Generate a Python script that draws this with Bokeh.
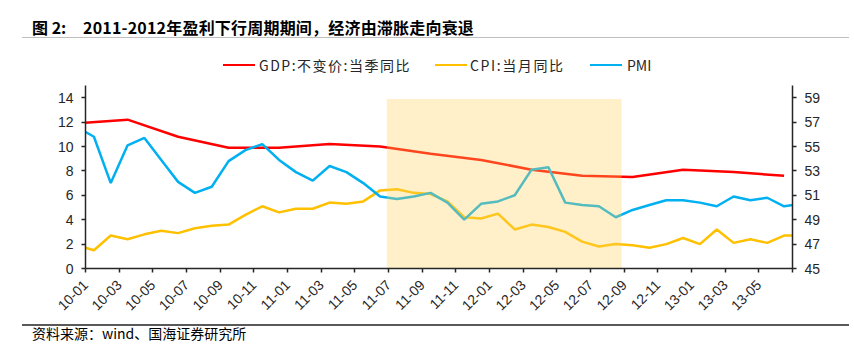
import math
from bokeh.plotting import figure
from bokeh.layouts import column
from bokeh.models import Range1d, LinearAxis, FixedTicker, Div
from bokeh.embed import file_html
from bokeh.resources import INLINE

# ---------------- data ----------------
title_a = "图 2:"
title_b = "2011-2012年盈利下行周期期间，经济由滞胀走向衰退"
source_note = "资料来源：wind、国海证券研究所"
series_names = ["GDP:不变价:当季同比", "CPI:当月同比", "PMI"]

# monthly series from 2009-12 to 2013-07
monthly_labels = (["09-12"]
                  + [f"10-{m:02d}" for m in range(1, 13)]
                  + [f"11-{m:02d}" for m in range(1, 13)]
                  + [f"12-{m:02d}" for m in range(1, 13)]
                  + [f"13-{m:02d}" for m in range(1, 8)])

pmi = [56.6,
       55.8, 52.0, 55.1, 55.7, 53.9, 52.1, 51.2, 51.7, 53.8, 54.7, 55.2, 53.9,
       52.9, 52.2, 53.4, 52.9, 52.0, 50.9, 50.7, 50.9, 51.2, 50.4, 49.0, 50.3,
       50.5, 51.0, 53.1, 53.3, 50.4, 50.2, 50.1, 49.2, 49.8, 50.2, 50.6, 50.6,
       50.4, 50.1, 50.9, 50.6, 50.8, 50.1, 50.3]

cpi = [1.9,
       1.5, 2.7, 2.4, 2.8, 3.1, 2.9, 3.3, 3.5, 3.6, 4.4, 5.1, 4.6,
       4.9, 4.9, 5.4, 5.3, 5.5, 6.4, 6.5, 6.2, 6.1, 5.5, 4.2, 4.1,
       4.5, 3.2, 3.6, 3.4, 3.0, 2.2, 1.8, 2.0, 1.9, 1.7, 2.0, 2.5,
       2.0, 3.2, 2.1, 2.4, 2.1, 2.7, 2.7]

gdp_labels = ["09-12", "10-03", "10-06", "10-09", "10-12", "11-03", "11-06", "11-09",
              "11-12", "12-03", "12-06", "12-09", "12-12", "13-03", "13-06"]
gdp = [11.9, 12.2, 10.8, 9.9, 9.9, 10.2, 10.0, 9.4,
       8.9, 8.1, 7.6, 7.5, 8.1, 7.9, 7.6]

tick_labels = ["10-01", "10-03", "10-05", "10-07", "10-09", "10-11",
               "11-01", "11-03", "11-05", "11-07", "11-09", "11-11",
               "12-01", "12-03", "12-05", "12-07", "12-09", "12-11",
               "13-01", "13-03", "13-05", ""]

# shaded period (2011-07 .. 2012-09)
shade_start, shade_end, shade_top = 17.9, 31.85, 13.9

# ---------------- positions ----------------
# x coordinate: month index with Jan 2010 centred at 0.5
pos = {lab: i - 0.5 for i, lab in enumerate(monthly_labels)}
x_month = [pos[l] for l in monthly_labels]
x_gdp = [pos[l] for l in gdp_labels]

RED = "#FF0000"
YEL = "#FFC000"
BLU = "#00B0F0"
AXC = "#262626"
AXIS_FONT = "Liberation Sans"
CJK = "Noto Sans CJK SC"

W = 854
HEAD_H = 75
FOOT_H = 35
FIG_H = 353 - HEAD_H - FOOT_H
TOP_B = 10
FRAME_H = 183

p = figure(width=W, height=FIG_H, output_backend="svg", toolbar_location=None,
           x_range=Range1d(0, 42), y_range=Range1d(0, 15),
           min_border_left=85, min_border_right=62, min_border_top=TOP_B,
           min_border_bottom=FIG_H - TOP_B - FRAME_H)
p.outline_line_color = None
p.xgrid.visible = False
p.ygrid.visible = False
p.background_fill_color = "white"
p.border_fill_color = "white"

p.extra_y_ranges = {"right": Range1d(45, 60)}

# lines
p.line(x_gdp, gdp, line_color=RED, line_width=2.5)
p.line(x_month, cpi, line_color=YEL, line_width=2.5)
p.line(x_month, pmi, line_color=BLU, line_width=2.5, y_range_name="right")

# shaded period on top (semi-transparent)
p.quad(left=[shade_start], right=[shade_end], bottom=[0], top=[shade_top],
       fill_color="#FFD25A", fill_alpha=0.33, line_color=None)

# axes
def style_axis(ax, size="14px"):
    ax.axis_line_color = AXC
    ax.axis_line_width = 1.5
    ax.major_tick_line_color = AXC
    ax.major_tick_line_width = 1.5
    ax.major_tick_out = 4
    ax.major_tick_in = 0
    ax.minor_tick_line_color = None
    ax.major_label_text_font = AXIS_FONT
    ax.major_label_text_font_size = size
    ax.major_label_text_color = AXC

xa = p.xaxis[0]
style_axis(xa, "14px")
xa.ticker = FixedTicker(ticks=[2 * k for k in range(22)])
xa.major_label_overrides = {2 * k: lab for k, lab in enumerate(tick_labels)}
xa.major_label_orientation = math.pi / 4
xa.major_label_standoff = 10

ya = p.yaxis[0]
style_axis(ya)
ya.ticker = FixedTicker(ticks=list(range(0, 15, 2)))
ya.major_label_standoff = 8

yr = LinearAxis(y_range_name="right", ticker=FixedTicker(ticks=list(range(45, 60, 2))))
style_axis(yr)
yr.major_label_standoff = 8
p.add_layout(yr, "right")

# ---------------- header: title, rule and legend ----------------
def txt(left, top, s, size, bold=False, color="#000", spacing=0.0):
    w = "bold" if bold else "normal"
    return (f'<div style="position:absolute;left:{left}px;top:{top}px;line-height:{size + 2}px;'
            f'font-family:\'{CJK}\';font-size:{size}px;font-weight:{w};color:{color};'
            f'letter-spacing:{spacing}px;white-space:nowrap;">{s}</div>')

def swatch(left, top, color):
    return (f'<div style="position:absolute;left:{left}px;top:{top}px;width:32px;height:0;'
            f'border-top:2.5px solid {color};"></div>')

head_html = (
    '<div style="position:absolute;left:22px;top:0;width:827px;height:38px;'
    'border-bottom:1px solid #BFBFBF;"></div>'
    + txt(32, 18, title_a, 16, bold=True)
    + txt(83, 18, title_b, 16, bold=True, spacing=0.2)
    + swatch(223, 64, RED) + txt(259, 57, series_names[0], 14, color="#262626", spacing=1.5)
    + swatch(435, 64, YEL) + txt(470, 57, series_names[1], 14, color="#262626", spacing=1.6)
    + swatch(590, 64, BLU) + txt(627, 57, series_names[2], 14, color="#262626")
)
head_div = Div(text=head_html, width=W, height=HEAD_H,
               styles={"position": "relative", "margin": "0", "padding": "0"})

foot_html = (
    '<div style="position:absolute;left:22px;top:6px;width:827px;height:0;'
    'border-top:2px solid #595959;"></div>'
    + txt(32, 7, source_note, 14)
)
foot_div = Div(text=foot_html, width=W, height=FOOT_H,
               styles={"position": "relative", "margin": "0", "padding": "0"})

layout = column(head_div, p, foot_div, spacing=0)

open("out.html", "w").write(file_html(layout, INLINE))
